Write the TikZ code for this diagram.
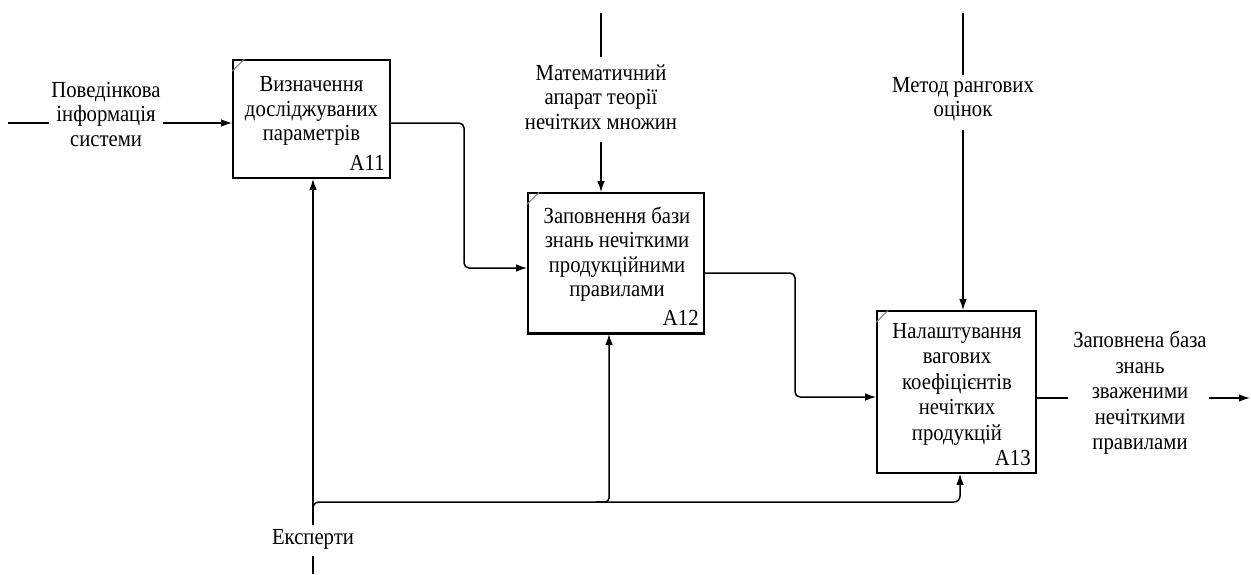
\documentclass[tikz,border=0pt]{standalone}
\usepackage{fontspec}
\setmainfont[FakeStretch=0.9]{Liberation Serif}
\usetikzlibrary{arrows.meta}
\begin{document}
\begin{tikzpicture}[x=1pt,y=-1pt,
  line/.style={line width=1.5pt},
  arr/.style={line width=1.5pt,-{Latex[length=11pt,width=7.5pt]}},
  box/.style={draw,line width=1.6pt,rectangle,inner sep=0pt},
  lbl/.style={align=center,inner sep=2pt,font=\fontsize{23}{24.5}\selectfont},
  num/.style={anchor=base east,inner sep=0pt,font=\fontsize{23}{24.5}\selectfont},
  corner/.style={line width=1pt,gray}]
\useasboundingbox (0,0) rectangle (1251,574);
% boxes
\node[box,minimum width=157pt,minimum height=118pt] (a11) at (311.5,119) {};
\node[box,minimum width=176pt,minimum height=140pt] (a12) at (616,263) {};
\node[box,minimum width=159pt,minimum height=162pt] (a13) at (956.5,392) {};
\draw[line width=2.6pt] (a12.south west) -- (a12.south east);
\foreach \b in {a11,a12,a13}{
  \draw[corner] ([yshift=-12pt]\b.north west) -- ([xshift=12pt]\b.north west);
}
% box texts
\node[lbl] (t11) at (311.5,111) {Визначення\\досліджуваних\\параметрів};
\node[num] (n11) at ([xshift=-6pt,yshift=8pt]a11.south east) {A11};
\node[lbl] (t12) at (617,254) {Заповнення бази\\знань нечіткими\\продукційними\\правилами};
\node[lbl,font=\fontsize{23}{25.5}\selectfont] (t13) at (957,384) {Налаштування\\вагових\\коефіцієнтів\\нечітких\\продукцій};
\node[num] (n12) at ([xshift=-6pt,yshift=8pt]a12.south east) {A12};
\node[num] (n13) at ([xshift=-6pt,yshift=8pt]a13.south east) {A13};
% input
\coordinate (inS) at (8,123);
\node[lbl] (in) at (106,114) {Поведінкова\\інформація\\системи};
\draw[line] (inS) -- (in.west |- inS);
\draw[arr] (in.east |- inS) -- (a11.west |- inS);
% A11 -> A12
\coordinate (j1) at (464,268);
\draw[arr,rounded corners=5pt] (a11.east |- inS) -| (j1) -- (a12.west |- j1);
% A12 -> A13
\coordinate (o12) at (704,273);
\coordinate (j2) at (795,397);
\draw[arr,rounded corners=5pt] (a12.east |- o12) -| (j2) -- (a13.west |- j2);
% output
\node[lbl,font=\fontsize{23}{25.5}\selectfont] (out) at (1140,393) {Заповнена база\\знань\\зваженими\\нечіткими\\правилами};
\coordinate (o1) at (1068,398);
\coordinate (o2) at (1209,398);
\coordinate (oE) at (1250,398);
\draw[line] (a13.east |- o1) -- (o1);
\draw[arr] (o2) -- (oE);
% control 1
\coordinate (c1T) at (601,13);
\coordinate (c1a) at (601,57);
\coordinate (c1b) at (601,142);
\node[lbl] (c1) at (601,97) {Математичний\\апарат теорії\\нечітких множин};
\draw[line] (c1T) -- (c1a);
\draw[arr] (c1b) -- (a12.north -| c1b);
% control 2
\coordinate (c2T) at (963,13);
\coordinate (c2a) at (963,75);
\coordinate (c2b) at (963,130);
\node[lbl] (c2) at (963,99) {Метод рангових\\оцінок};
\draw[line] (c2T) -- (c2a);
\draw[arr] (c2b) -- (a13.north -| c2b);
% mechanism
\coordinate (mB) at (313,574);
\coordinate (ma) at (313,556);
\coordinate (mb) at (313,525);
\coordinate (mJ) at (313,514);
\coordinate (mE) at (960,502);
\coordinate (mK) at (596,502);
\coordinate (mU) at (609,333);
\node[lbl] (m) at (313,539) {Експерти};
\draw[line] (mB) -- (ma);
\draw[arr] (mb) -- (a11.south -| mb);
\draw[arr,rounded corners=6pt] (mJ) |- (mE) -- (a13.south -| mE);
\draw[arr,rounded corners=4pt] (mK) -| (a12.south -| mU);
\end{tikzpicture}
\end{document}
